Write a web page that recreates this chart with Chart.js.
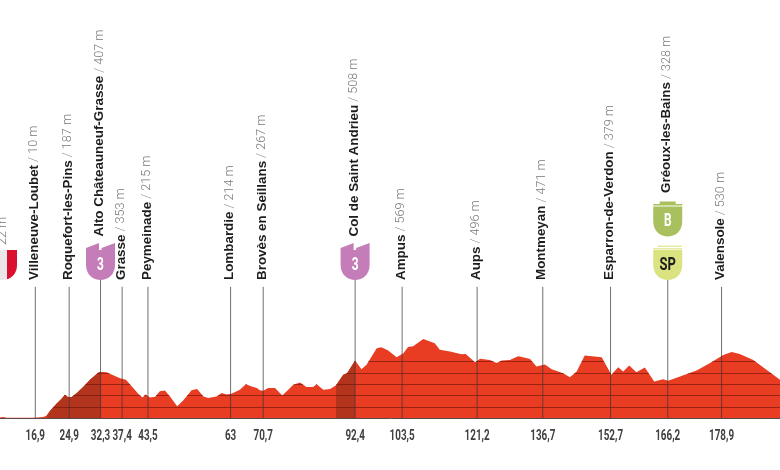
<!DOCTYPE html>
<html>
<head>
<meta charset="utf-8">
<style>html,body{margin:0;padding:0;background:#fff}canvas{display:block}</style>
<script src="https://cdn.jsdelivr.net/npm/chart.js@4"></script>
</head>
<body>
<canvas id="c" width="780" height="470"></canvas>
<script>
const profileKm = [8.6,9.35,10.1,16.4,18.8,19.6,20.4,21.9,23.1,23.9,24.7,25.5,26.7,28.2,29.8,31.8,32.3,32.6,33.7,35.3,36.9,38.3,39.7,41.2,42.2,42.9,44,45.2,46.3,47.5,48.7,50.4,51.8,53.8,55.1,56.6,57.7,59.7,60.9,62.1,63.2,65.2,66.6,68,69.2,69.9,70.7,71.9,73.5,74.3,75.2,76.2,77.8,79.4,80.9,82.5,83.3,84.9,86.5,87.9,89.6,90.5,92.4,93.9,95.1,97.5,98.6,100.2,102.2,103.8,104.9,106.1,108.5,111.2,112.4,114.8,117.5,118.5,120.7,121.9,124.2,125.8,127,128.9,130.9,131.3,133.7,135.2,137.2,138.8,141.5,143.1,144.7,146.6,150.6,152.9,154.5,155.7,157.1,158.8,160.8,163,165.1,166.3,169.1,173,176.1,179.3,181.3,183.2,186.4,189.5,192.7];
const profileElevation = [6,9,3,3,9,21,64,126,170,205,184,185,220,273,337,401,405,407,404,378,352,337,278,214,182,208,182,188,237,243,190,103,155,246,255,190,176,190,220,208,214,249,299,278,264,245,240,264,264,234,199,234,293,314,273,273,299,249,255,290,381,395,508,431,469,615,624,595,536,571,627,633,697,659,603,586,562,565,492,522,513,486,507,513,545,542,521,454,472,431,396,360,410,551,536,381,448,410,463,404,445,322,343,328,366,419,483,557,583,565,513,425,337];
const climbStartKm = [19.6,87.9];
const climbEndKm = [32.3,92.4];
const elevationLines = [100,200,300,400,500];

const stopKm = [16.9,24.9,32.3,37.4,43.5,63,70.7,92.4,103.5,121.2,136.7,152.7,166.2,178.9];
const stopKmLabels = ["16,9","24,9","32,3","37,4","43,5","63","70,7","92,4","103,5","121,2","136,7","152,7","166,2","178,9"];
const stopNames = ["Villeneuve-Loubet","Roquefort-les-Pins","Alto Châteauneuf-Grasse","Grasse","Peymeinade","Lombardie","Brovès en Seillans","Col de Saint Andrieu","Ampus","Aups","Montmeyan","Esparron-de-Verdon","Gréoux-les-Bains","Valensole"];
const stopElevation = [10,187,407,353,215,214,267,508,569,496,471,379,328,530];
const stopBadges = [[],[],["3"],[],[],[],[],["3"],[],[],[],[],["SP","B"],[]];
const startKm = 9.16;
const startElevation = 22;

const profilePoints = profileKm.map((k,i)=>({x:k,y:profileElevation[i]}));
function climbPoints(n){return profilePoints.filter(p=>p.x>=climbStartKm[n]&&p.x<=climbEndKm[n]);}
const stemPoints = [];
stopKm.forEach((k,i)=>{
  stemPoints.push({x:k,y:0},{x:k,y:stopBadges[i].length?1220:1158},{x:k,y:null});
});

const RED='#e83c23', DARK='#b3341c';
const badgeStyle={"3":{fill:'#c47db8',text:'#fff',top:'notch'},"B":{fill:'#a9c05f',text:'#fff',top:'cap'},"SP":{fill:'#dbe381',text:'#1c1c1c',top:'sheet'}};

function condensedText(ctx,text,x,y,font,stretch){
  ctx.save();
  ctx.translate(x,y);
  ctx.scale(stretch,1);
  ctx.font=font;
  ctx.textAlign='center';ctx.textBaseline='middle';
  ctx.fillText(text,0,0);
  ctx.restore();
}
function badgeBody(ctx,cx,bottom,fill){
  const w=14.5,h=30;
  ctx.beginPath();
  ctx.moveTo(cx-w,bottom-h);
  ctx.lineTo(cx+w,bottom-h);
  ctx.lineTo(cx+w,bottom-15);
  ctx.bezierCurveTo(cx+w,bottom-5,cx+7,bottom,cx,bottom);
  ctx.bezierCurveTo(cx-7,bottom,cx-w,bottom-5,cx-w,bottom-15);
  ctx.closePath();
  ctx.fillStyle=fill;ctx.fill();
}
function drawBadge(ctx,cx,bottom,name){
  const s=badgeStyle[name];
  badgeBody(ctx,cx,bottom,s.fill);
  const t=bottom-30;
  ctx.fillStyle=s.fill;
  if(s.top==='notch'){
    ctx.beginPath();ctx.moveTo(cx-14.5,t);ctx.lineTo(cx-14.5,t-2);ctx.lineTo(cx-1.5,t-7);ctx.lineTo(cx-1.5,t);ctx.closePath();ctx.fill();
    ctx.beginPath();ctx.moveTo(cx+1,t);ctx.lineTo(cx+1,t-2);ctx.lineTo(cx+14.5,t-7);ctx.lineTo(cx+14.5,t);ctx.closePath();ctx.fill();
  }else if(s.top==='cap'){
    ctx.fillRect(cx-14.5,t-2.5,29,1.5);
    ctx.fillRect(cx-8,t-5,16,3);
  }else{
    ctx.fillStyle='#e4ea9f';
    ctx.fillRect(cx-14.5,t-2,29,1.5);
    ctx.fillRect(cx-10,t-4.5,24,1.5);
  }
  ctx.fillStyle=s.text;
  condensedText(ctx,name,cx,bottom-15,'700 18px Roboto',name==='SP'?.72:.66);
}
function drawStopLabel(ctx,x,bottom,name,elev){
  ctx.save();
  ctx.translate(x,bottom);
  ctx.rotate(-Math.PI/2);
  ctx.textAlign='left';ctx.textBaseline='middle';
  let off=0;
  if(name){
    ctx.font='bold 13.4px "Liberation Sans"';
    ctx.fillStyle='#1d1d1b';
    ctx.fillText(name,0,0);
    off=ctx.measureText(name).width+3;
  }
  ctx.font='300 12.6px Roboto';
  ctx.fillStyle='#77777a';
  ctx.fillText((name?'/ ':'')+elev+' m',off,0);
  ctx.restore();
}
const overlay={
  id:'overlay',
  beforeDatasetDraw(chart,args){
    if(args.index===3){
      const {ctx,chartArea:a,scales:{y}}=chart;
      const pts=chart.getDatasetMeta(0).data;
      ctx.save();
      ctx.beginPath();
      ctx.moveTo(pts[0].x,a.bottom);
      pts.forEach(p=>ctx.lineTo(p.x,p.y));
      ctx.lineTo(pts[pts.length-1].x,a.bottom);
      ctx.closePath();ctx.clip();
      ctx.strokeStyle='rgba(110,20,10,.65)';ctx.lineWidth=1;
      elevationLines.forEach(v=>{
        const py=Math.round(y.getPixelForValue(v))+.5;
        ctx.beginPath();ctx.moveTo(a.left,py);ctx.lineTo(a.right,py);ctx.stroke();
      });
      ctx.restore();
    }
  },
  afterDatasetsDraw(chart){
    const {ctx,scales:{x}}=chart;
    const baseTop=280, stack=43.5;
    ctx.save();
    const sx=x.getPixelForValue(startKm);
    badgeBody(ctx,sx,baseTop,'#ebe6e7');
    ctx.beginPath();ctx.rect(sx+4.5,baseTop-31,20,32);ctx.clip();
    badgeBody(ctx,sx,baseTop,'#d9112f');
    ctx.restore();
    drawStopLabel(ctx,sx+.5,baseTop-35,'',startElevation);
    stopKm.forEach((k,i)=>{
      const px=x.getPixelForValue(k);
      stopBadges[i].forEach((b,n)=>drawBadge(ctx,px,baseTop-stack*n,b));
      drawStopLabel(ctx,px-1,baseTop-stack*stopBadges[i].length,stopNames[i],stopElevation[i]);
    });
    ctx.fillStyle='#404040';
    x.ticks.forEach(t=>{
      condensedText(ctx,t.label,x.getPixelForValue(t.value),436.5,'700 14.5px Roboto',.68);
    });
  }
};
new Chart(document.getElementById('c'),{
  type:'line',
  data:{datasets:[
    {data:profilePoints,fill:'origin',backgroundColor:RED,borderColor:RED,borderWidth:0,pointRadius:0,tension:0,order:4},
    {data:climbPoints(0),fill:'origin',backgroundColor:DARK,borderColor:DARK,borderWidth:0,pointRadius:0,tension:0,order:3},
    {data:climbPoints(1),fill:'origin',backgroundColor:DARK,borderColor:DARK,borderWidth:0,pointRadius:0,tension:0,order:2},
    {data:stemPoints,borderColor:'rgba(60,55,55,.72)',borderWidth:1,pointRadius:0,tension:0,spanGaps:false,fill:false,order:1}
  ]},
  options:{
    responsive:false,animation:false,events:[],
    layout:{padding:0},
    plugins:{legend:{display:false},tooltip:{enabled:false},title:{display:false}},
    scales:{
      x:{type:'linear',min:8.57,max:192.7,
        afterBuildTicks(s){s.ticks=stopKm.map(v=>({value:v}));},
        afterFit(s){s.height=52;},
        grid:{display:false},
        border:{display:true,color:'#5a4a48',width:1},
        ticks:{display:false,autoSkip:false,maxRotation:0,minRotation:0,
          callback(v){return stopKmLabels[stopKm.indexOf(v)];}}
      },
      y:{display:false,min:0,max:3690}
    }
  },
  plugins:[overlay]
});
</script>
</body>
</html>
